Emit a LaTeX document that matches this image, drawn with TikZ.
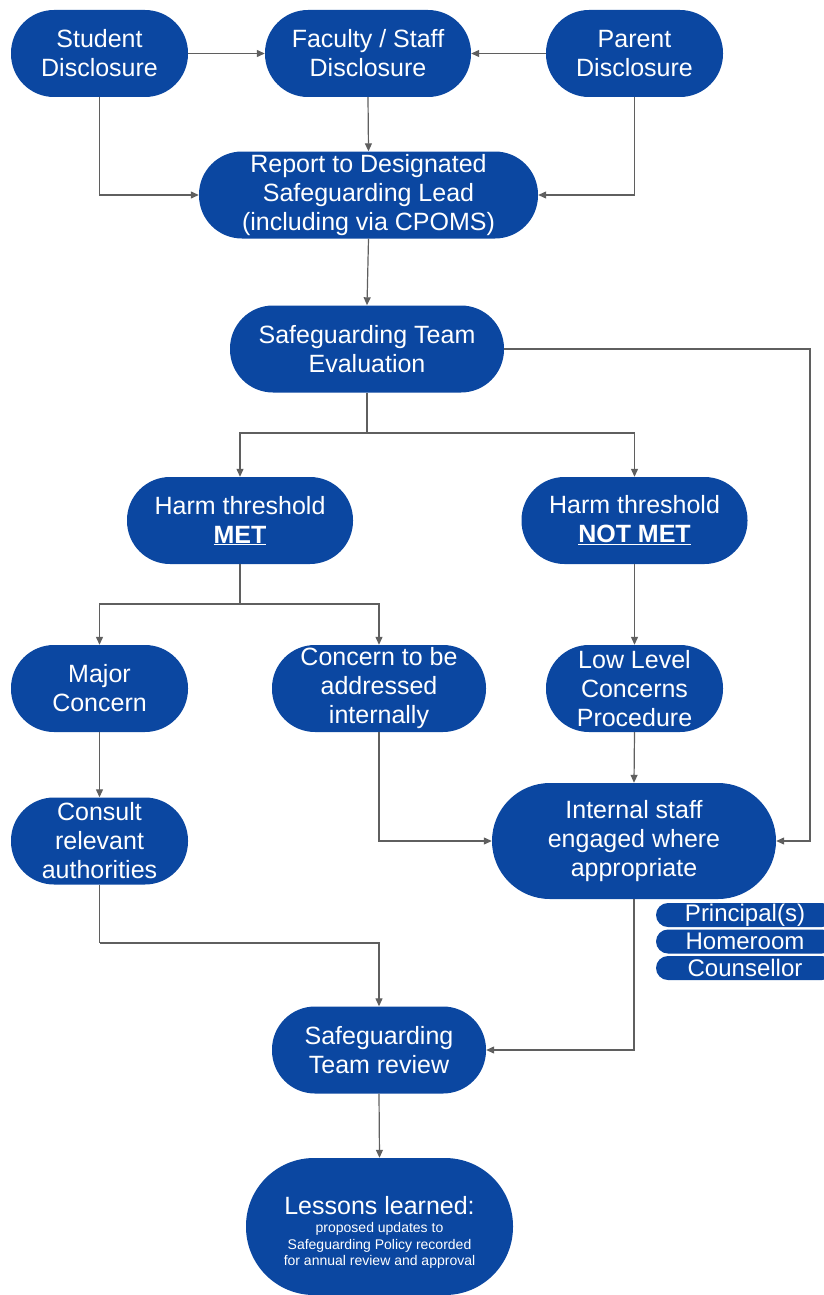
\documentclass[tikz,border=0pt]{standalone}
\usepackage{fontspec}
\setmainfont{Liberation Sans}
\usetikzlibrary{arrows.meta}
\definecolor{dblue}{HTML}{0B47A1}
\definecolor{lgray}{HTML}{5F5F5F}
\begin{document}
\begin{tikzpicture}[x=1pt,y=-1pt,
  box/.style={fill=dblue, text=white, rounded corners=43pt, minimum height=87pt, inner sep=0pt, align=center, font=\fontsize{25}{29}\selectfont},
  tag/.style={fill=dblue, text=white, rounded corners=12pt, minimum width=178pt, minimum height=24pt, inner sep=0pt, font=\fontsize{24}{24}\selectfont},
  conn/.style={draw=lgray, line width=1.2pt, -{Triangle[length=8pt,width=7pt]}}]
\useasboundingbox (0,0) rectangle (824,1295);
% nodes
\node[box, minimum width=177pt] (stu) at (99.5,53.5) {Student\\Disclosure};
\node[box, minimum width=206pt] (fac) at (368,53.5) {Faculty / Staff\\Disclosure};
\node[box, minimum width=177pt] (par) at (634.5,53.5) {Parent\\Disclosure};
\node[box, minimum width=339pt] (rep) at (368.5,195) {Report to Designated\\Safeguarding Lead\\(including via CPOMS)};
\node[box, minimum width=274pt] (eval) at (367,349) {Safeguarding Team\\Evaluation};
\node[box, minimum width=226pt] (met) at (240,520.5) {Harm threshold\\\textbf{\underline{MET}}};
\node[box, minimum width=226pt] (nmet) at (634.5,520.5) {Harm threshold\\\textbf{\underline{NOT MET}}};
\node[box, minimum width=177pt] (maj) at (99.5,688.5) {Major\\Concern};
\node[box, minimum width=214pt] (cint) at (379,688.5) {Concern to be\\addressed\\internally};
\node[box, minimum width=177pt] (low) at (634.5,688.5) {Low Level\\Concerns\\Procedure};
\node[box, minimum width=177pt] (cons) at (99.5,841) {Consult\\relevant\\authorities};
\node[box, minimum width=284pt, minimum height=116pt, rounded corners=58pt] (int) at (634,841) {Internal staff\\engaged where\\appropriate};
\node[box, minimum width=214pt] (rev) at (379,1050) {Safeguarding\\Team review};
\node[box, minimum width=267pt, minimum height=137pt, rounded corners=68pt] (les) at (379.5,1226.5)
  {\parbox{260pt}{\vspace{12pt}\centering\fontsize{25}{29}\selectfont Lessons learned:\par\vspace{2pt}%
   \fontsize{14}{16.5}\selectfont proposed updates to\\Safeguarding Policy recorded\\for annual review and approval\par}};
\begin{scope}
\clip (0,0) rectangle (824,1295);
\node[tag] (t1) at (745,915) {Principal(s)};
\node[tag] (t2) at (745,941.5) {Homeroom};
\node[tag] (t3) at (745,968) {Counsellor};
\end{scope}
% coordinates
\coordinate (r1) at (810,349);
\coordinate (s1) at (367,433);
\coordinate (s2) at (240,604);
\coordinate (s3) at (99.5,943);
% connectors
\draw[conn] (stu.east) -- (fac.west);
\draw[conn] (par.west) -- (fac.east);
\draw[conn] (fac.south) -- (rep.north);
\draw[conn] (stu.south) |- (rep.west);
\draw[conn] (par.south) |- (rep.east);
\draw[conn] (rep.south) -- (eval.north);
\draw[conn] (eval.east) -- (r1) |- (int.east);
\draw[draw=lgray, line width=1.2pt] (eval.south) -- (s1);
\draw[conn] (s1) -| (met.north);
\draw[conn] (s1) -| (nmet.north);
\draw[draw=lgray, line width=1.2pt] (met.south) -- (s2);
\draw[conn] (s2) -| (maj.north);
\draw[conn] (s2) -| (cint.north);
\draw[conn] (nmet.south) -- (low.north);
\draw[conn] (maj.south) -- (cons.north);
\draw[conn] (low.south) -- (int.north);
\draw[conn] (cint.south) |- (int.west);
\draw[draw=lgray, line width=1.2pt] (cons.south) -- (s3);
\draw[conn] (s3) -| (rev.north);
\draw[conn] (int.south) |- (rev.east);
\draw[conn] (rev.south) -- (les.north);
\end{tikzpicture}
\end{document}
